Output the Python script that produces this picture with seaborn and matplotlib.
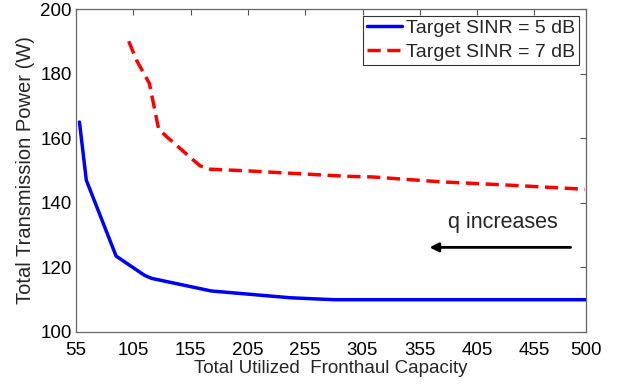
import matplotlib
matplotlib.use("Agg")
import matplotlib.pyplot as plt
import seaborn as sns
import pandas as pd

# Data
x_5db = [58, 64, 90, 115, 121, 173, 242, 280, 350, 420, 500]
y_5db = [165, 147, 123.5, 117.5, 116.6, 112.7, 110.6, 110.0, 110.0, 110.0, 110.0]
x_7db = [101, 108, 119, 127, 134, 163, 172, 204, 250, 291, 314, 373, 431, 499]
y_7db = [190, 184, 177, 163, 160.5, 151.5, 150.4, 149.9, 149.0, 148.2, 148.0, 146.5, 145.5, 144.2]
series_labels = ["Target SINR = 5 dB", "Target SINR = 7 dB"]
x_ticks = [55, 105, 155, 205, 255, 305, 355, 405, 455, 500]
y_ticks = [100, 120, 140, 160, 180, 200]

df = pd.concat([
    pd.DataFrame({"x": x_5db, "y": y_5db, "s": series_labels[0]}),
    pd.DataFrame({"x": x_7db, "y": y_7db, "s": series_labels[1]}),
])

sns.set_theme(style="white")
plt.rcParams['font.family'] = ['Liberation Sans', 'DejaVu Sans']

fig = plt.figure(figsize=(6.18, 3.86), dpi=100)
ax = fig.add_axes([76/618, 1-332/386, (586-76)/618, (332-9)/386])

sns.lineplot(data=df, x="x", y="y", hue="s", style="s",
             palette=["#0000ff", "#ff0000"],
             dashes={series_labels[0]: "", series_labels[1]: (3.8, 1.9)},
             linewidth=2.5, ax=ax, sort=False, estimator=None)

ax.set_xlim(55, 500)
ax.set_ylim(100, 200)
ax.set_xticks(x_ticks)
ax.set_yticks(y_ticks)
ax.tick_params(direction="in", length=4, width=0.8, color="#555555",
               labelsize=13.5, top=True, right=True, labelcolor="black")
ax.tick_params(axis="x", pad=7)
ax.tick_params(axis="y", pad=3)
for sp in ax.spines.values():
    sp.set_color("#666666")
    sp.set_linewidth(0.9)

ax.set_xlabel("Total Utilized  Fronthaul Capacity", fontsize=13.5, labelpad=1)
ax.set_ylabel("Total Transmission Power (W)", fontsize=14.5, labelpad=4)

leg = ax.legend(loc="upper right", fontsize=14, frameon=True, fancybox=False,
                borderpad=0.2, handlelength=1.8, handletextpad=0.2,
                labelspacing=0.3, borderaxespad=0.35)
leg.get_frame().set_edgecolor("black")
leg.get_frame().set_linewidth(0.8)

ax.annotate("", xy=(361, 126.2), xytext=(489, 126.2),
            arrowprops=dict(arrowstyle="-|>", color="black", lw=2,
                            mutation_scale=13))
ax.text(427.6, 133.8, "q increases", fontsize=15.5, ha="center", va="center")

fig.savefig("out.png", dpi=100)
